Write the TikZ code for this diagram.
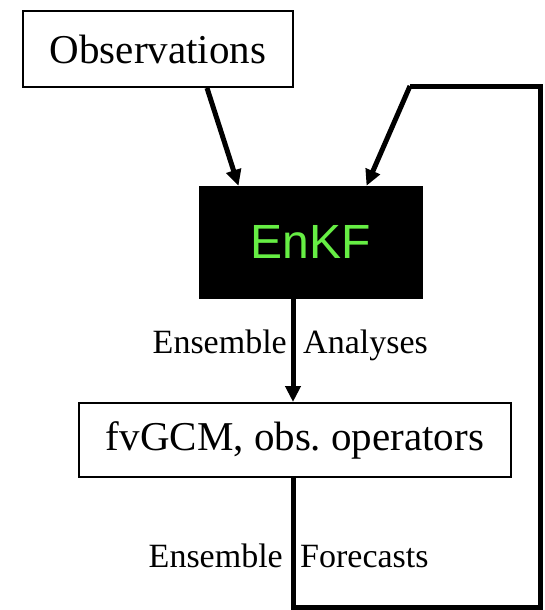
\documentclass[tikz,border=0pt]{standalone}
\usepackage{fontspec}
\setmainfont{Liberation Serif}
\newfontfamily\enkffont{Liberation Sans}
\usetikzlibrary{arrows.meta}
\definecolor{enkfgreen}{RGB}{102,238,68}
\tikzset{
  x=1pt, y=-1pt,
  plainbox/.style={draw=black, line width=2pt, fill=white, inner sep=0pt,
    font=\fontsize{41}{41}\selectfont},
  filterbox/.style={fill=black, draw=black, inner sep=0pt,
    text=enkfgreen, font=\enkffont\fontsize{48}{48}\selectfont},
  flow/.style={line width=5pt, -{Triangle[length=16pt,width=15pt]}},
  loopline/.style={line width=5pt, line join=miter},
  lbl/.style={font=\fontsize{34}{34}\selectfont, inner sep=0pt},
}
\begin{document}
\begin{tikzpicture}
\useasboundingbox (0,0) rectangle (545,610);

% the three stages
\node[plainbox, minimum width=270pt, minimum height=76pt] (obs) at (158,49) {Observations};
\node[filterbox, minimum width=223pt, minimum height=112pt] (enkf) at (310.5,242) {EnKF};
\node[plainbox, minimum width=432pt, minimum height=74pt] (gcm) at (295,440) {fvGCM, obs.\ operators};

% observations into the filter
\draw[flow] ([xshift=49pt]obs.south) -- ([xshift=-72pt]enkf.north);

% analyses into the model
\coordinate (a0) at ([xshift=-17.5pt]enkf.south);
\draw[flow] (a0) -- (a0 |- gcm.north);

% forecasts fed back to the filter
\coordinate (f0) at ([xshift=-2pt]gcm.south);
\coordinate (c1) at (f0 |- 0,607);
\coordinate (c2) at (540,607);
\coordinate (c3) at (540,86);
\coordinate (c4) at (410,86);
\draw[loopline] (f0) -- (c1) -- (c2) -- (c3) -- (c4);
\draw[flow] (c4) -- ([xshift=56pt]enkf.north);

% connector labels
\node[lbl, anchor=base east] (la1) at (287,353) {Ensemble};
\node[lbl, anchor=base west] (la2) at (303,353) {Analyses};
\node[lbl, anchor=base east] (lf1) at (283,567) {Ensemble};
\node[lbl, anchor=base west] (lf2) at (300,567) {Forecasts};
\end{tikzpicture}
\end{document}
